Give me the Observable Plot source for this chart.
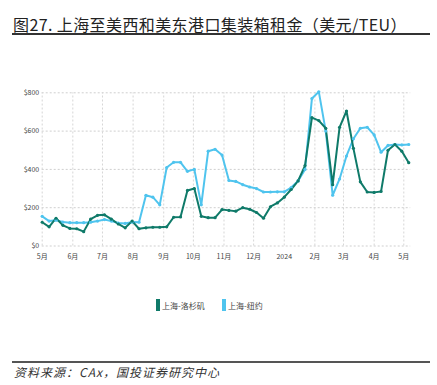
<!DOCTYPE html>
<html><head><meta charset="utf-8">
<script src="https://cdn.jsdelivr.net/npm/d3@7"></script>
<script src="https://cdn.jsdelivr.net/npm/@observablehq/plot@0.6"></script>
<style>
body{margin:0;width:437px;height:385px;background:#fff;position:relative;font-family:"Noto Sans CJK SC",sans-serif;overflow:hidden}
#chart{position:absolute;left:0;top:0}
#title{position:absolute;left:13px;top:12px;font-size:16px;color:#222;white-space:nowrap;letter-spacing:0.4px}
#rule1{position:absolute;left:12px;top:33px;width:418px;height:2px;background:#333}
.leg{position:absolute;top:299px;font-size:8px;color:#444;white-space:nowrap;display:flex;align-items:center}
.leg span.sw{display:inline-block;width:4px;height:12px;margin-right:2px}
#rule2{position:absolute;left:12px;top:361px;width:418px;height:2px;background:#555}
#source{position:absolute;left:14px;top:363px;font-size:12px;font-style:italic;color:#333;letter-spacing:1px;white-space:nowrap}
</style></head>
<body>
<div id="chart"></div>
<div id="title">图27. 上海至美西和美东港口集装箱租金（美元/TEU）</div>
<div id="rule1"></div>
<div id="legend"></div>
<div id="rule2"></div>
<div id="source">资料来源：CAx，国投证券研究中心</div>
<script>
const dates = ["2023-05-01","2023-05-08","2023-05-15","2023-05-22","2023-05-29","2023-06-05","2023-06-12","2023-06-19","2023-06-26","2023-07-03","2023-07-10","2023-07-17","2023-07-24","2023-07-31","2023-08-07","2023-08-14","2023-08-21","2023-08-28","2023-09-04","2023-09-11","2023-09-18","2023-09-25","2023-10-02","2023-10-09","2023-10-16","2023-10-23","2023-10-30","2023-11-06","2023-11-13","2023-11-20","2023-11-27","2023-12-04","2023-12-11","2023-12-18","2023-12-25","2024-01-01","2024-01-08","2024-01-15","2024-01-22","2024-01-29","2024-02-05","2024-02-12","2024-02-19","2024-02-26","2024-03-04","2024-03-11","2024-03-18","2024-03-25","2024-04-01","2024-04-08","2024-04-15","2024-04-22","2024-04-29","2024-05-06"];
const laValues = [124,100,145,108,92,90,75,140,160,163,140,115,95,130,90,95,98,98,100,150,152,290,300,155,148,148,190,186,182,200,192,175,145,205,225,255,295,340,420,670,655,615,320,620,705,510,335,282,280,285,500,530,495,435];
const nyValues = [155,130,135,125,122,122,122,124,130,138,130,120,118,125,124,265,255,215,410,437,437,390,400,215,495,505,475,342,337,320,308,300,282,282,283,283,305,340,400,770,805,600,265,350,470,560,615,620,580,490,525,530,528,530];
const seriesNames = ["上海-洛杉矶","上海-纽约"];
const seriesColors = ["#0f7a69","#4fc4ee"];
const yTicks = [0,200,400,600,800];
const monthTicks = ["2023-05-01","2023-06-01","2023-07-01","2023-08-01","2023-09-01","2023-10-01","2023-11-01","2023-12-01","2024-01-01","2024-02-01","2024-03-01","2024-04-01","2024-05-01"];
const monthLabels = ["5月","6月","7月","8月","9月","10月","11月","12月","2024","2月","3月","4月","5月"];

const data = [];
dates.forEach((d,i)=>{
  data.push({date:new Date(d),value:nyValues[i],series:seriesNames[1]});
});
dates.forEach((d,i)=>{
  data.push({date:new Date(d),value:laValues[i],series:seriesNames[0]});
});
const mt = monthTicks.map(d=>new Date(d));
const gridStart = new Date("2023-05-01"), gridEnd = new Date("2024-05-08");

const chart = Plot.plot({
  width:437, height:275,
  marginLeft:41.7, marginRight:33.7, marginTop:92.3, marginBottom:29.5,
  style:{fontFamily:"'Noto Sans CJK SC',sans-serif",background:"transparent"},
  x:{type:"utc",domain:[new Date("2023-05-01"),new Date("2024-05-01")],label:null},
  y:{domain:[0,800],label:null},
  color:{domain:seriesNames,range:seriesColors},
  marks:[
    Plot.ruleY(yTicks,{y:d=>d,x1:gridStart,x2:gridEnd,stroke:"#cfcfcf",strokeDasharray:"2,2",strokeWidth:1}),
    Plot.ruleX(mt,{x:d=>d,y1:0,y2:800,stroke:"#d6d6d6",strokeDasharray:"2,2",strokeWidth:1}),
    Plot.axisY(yTicks,{tickSize:0,tickPadding:3,tickFormat:d=>"$"+d,fontSize:7,fill:"#444",label:null}),
    Plot.axisX(mt,{tickSize:0,tickPadding:8,tickFormat:(d,i)=>monthLabels[i],fontSize:7,fill:"#444",label:null}),
    Plot.line(data,{x:"date",y:"value",z:"series",stroke:"series",strokeWidth:2}),
    Plot.dot(data,{x:"date",y:"value",fill:"series",r:1.6})
  ]
});
document.getElementById("chart").appendChild(chart);

const leg = document.getElementById("legend");
const legX = [156,222];
seriesNames.forEach((n,i)=>{
  const el = document.createElement("div");
  el.className="leg";
  el.style.left = legX[i]+"px";
  el.innerHTML = `<span class="sw" style="background:${seriesColors[i]}"></span>${n}`;
  leg.appendChild(el);
});
</script>
</body></html>
